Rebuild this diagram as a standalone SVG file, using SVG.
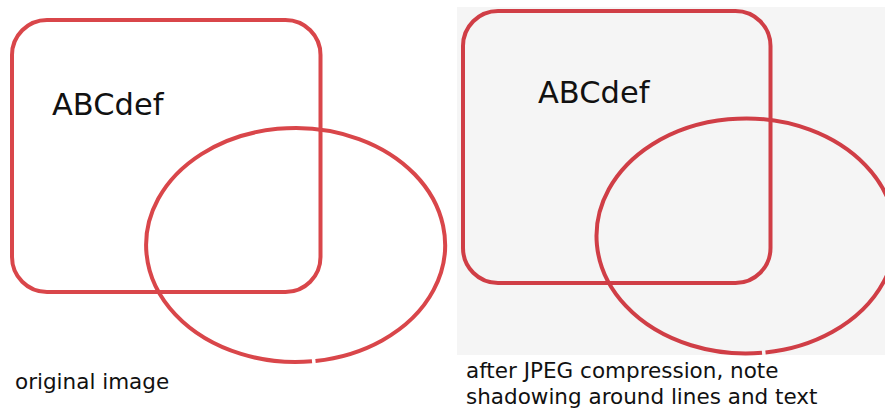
<svg xmlns="http://www.w3.org/2000/svg" width="885" height="408" viewBox="0 0 885 408">
  <style>
    .shape { fill: none; stroke: #d9464a; stroke-width: 4; }
    .shape2 { fill: none; stroke: #d03e46; stroke-width: 4; }
    .big { font-family: "DejaVu Sans", Verdana, sans-serif; font-size: 30.5px; fill: #111; }
    .cap { font-family: "DejaVu Sans", Verdana, sans-serif; font-size: 21.5px; fill: #111; }
  </style>
  <rect x="0" y="0" width="885" height="408" fill="#ffffff"/>
  <g id="left-panel">
    <g id="left-rect">
      <rect class="shape" x="12" y="20" width="308.5" height="272" rx="35" ry="35"/>
    </g>
    <g id="left-text">
      <text class="big" x="52" y="115">ABCdef</text>
    </g>
    <g id="left-ellipse">
      <path class="shape" d="M 312 361.285 A 149.5 117 0 1 1 315.5 360.95"/>
    </g>
    <text class="cap" x="15" y="389">original image</text>
  </g>
  <g id="right-panel">
    <rect x="457" y="7" width="428" height="348" fill="#f5f5f5"/>
    <g id="right-rect">
      <rect class="shape2" x="463" y="11" width="307.5" height="272" rx="35" ry="35"/>
    </g>
    <g id="right-text">
      <text class="big" x="538" y="103">ABCdef</text>
    </g>
    <g id="right-ellipse">
      <path class="shape2" d="M 762 352.825 A 149.5 117.5 0 1 1 765.5 352.496"/>
    </g>
    <text class="cap" x="466" y="378">after JPEG compression, note</text>
    <text class="cap" x="466" y="404">shadowing around lines and text</text>
  </g>
</svg>
